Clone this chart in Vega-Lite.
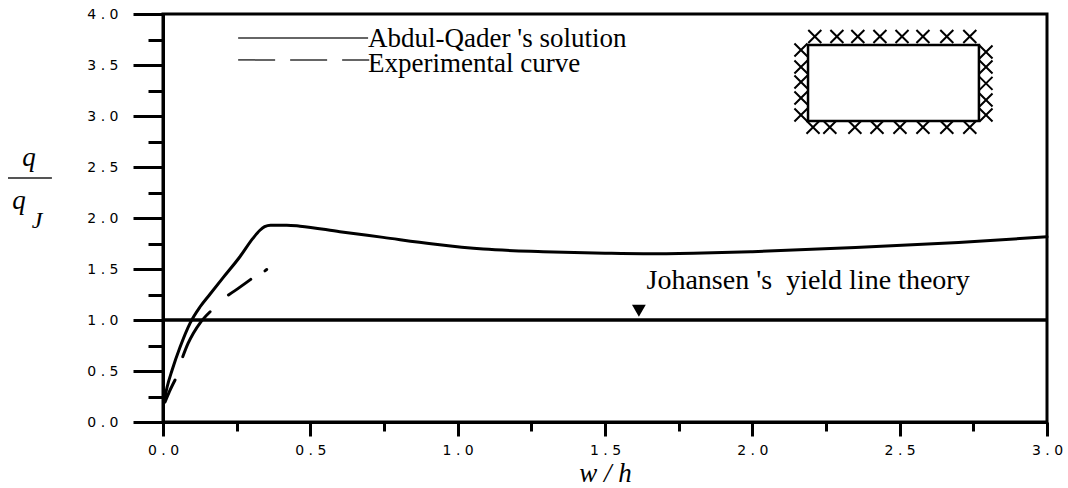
{
  "$schema": "https://vega.github.io/schema/vega-lite/v6.json",
  "width": 884,
  "height": 408,
  "autosize": {"type": "none"},
  "padding": {"left": 163, "top": 14, "right": 21, "bottom": 66},
  "background": "white",
  "config": {
    "view": {"stroke": "black", "strokeWidth": 3},
    "axis": {"grid": false, "domainColor": "black", "domainWidth": 3, "tickColor": "black", "tickWidth": 3, "labelColor": "black", "labelFont": "DejaVu Sans", "labelFontSize": 14, "labelOverlap": false, "labelFlush": false, "labelBound": false}
  },
  "datasets": {
    "abdul": [
      {"x": 0.003, "y": 0.19}, {"x": 0.014, "y": 0.343}, {"x": 0.031, "y": 0.51}, {"x": 0.058, "y": 0.735},
      {"x": 0.092, "y": 0.97}, {"x": 0.126, "y": 1.13}, {"x": 0.16, "y": 1.255}, {"x": 0.204, "y": 1.415},
      {"x": 0.261, "y": 1.62}, {"x": 0.305, "y": 1.8}, {"x": 0.329, "y": 1.88}, {"x": 0.345, "y": 1.915},
      {"x": 0.365, "y": 1.93}, {"x": 0.42, "y": 1.93}, {"x": 0.465, "y": 1.92}, {"x": 0.6, "y": 1.866},
      {"x": 0.747, "y": 1.81}, {"x": 0.917, "y": 1.745}, {"x": 1.087, "y": 1.695}, {"x": 1.29, "y": 1.67},
      {"x": 1.5, "y": 1.655}, {"x": 1.63, "y": 1.65}, {"x": 1.8, "y": 1.655}, {"x": 2.0, "y": 1.67},
      {"x": 2.35, "y": 1.71}, {"x": 2.7, "y": 1.76}, {"x": 3.0, "y": 1.815}
    ],
    "exper": [
      {"seg": 1, "x": 0.007, "y": 0.196}, {"seg": 1, "x": 0.022, "y": 0.3}, {"seg": 1, "x": 0.041, "y": 0.412},
      {"seg": 2, "x": 0.067, "y": 0.64}, {"seg": 2, "x": 0.085, "y": 0.77}, {"seg": 2, "x": 0.103, "y": 0.87}, {"seg": 2, "x": 0.128, "y": 0.98}, {"seg": 2, "x": 0.16, "y": 1.081},
      {"seg": 3, "x": 0.222, "y": 1.245}, {"seg": 3, "x": 0.26, "y": 1.32}, {"seg": 3, "x": 0.298, "y": 1.399},
      {"seg": 4, "x": 0.346, "y": 1.482}, {"seg": 4, "x": 0.352, "y": 1.495}
    ],
    "johansen": [{"x": 0, "x2": 3, "y": 1}],
    "legendLines": [
      {"series": "Abdul-Qader", "x": 0.255, "x2": 0.696, "y": 3.765},
      {"series": "Experimental", "x": 0.255, "x2": 0.7, "y": 3.55}
    ],
    "legendText": [
      {"x": 0.696, "y": 3.676, "text": "Abdul-Qader 's solution"},
      {"x": 0.696, "y": 3.431, "text": "Experimental curve"}
    ],
    "johText": [{"x": 1.641, "y": 1.304, "text": "Johansen 's\u00a0 yield line theory"}],
    "arrow": [{"x": 1.615, "y": 1.09}],
    "inset": [{"x": 2.189, "x2": 2.769, "y": 3.696, "y2": 2.95}],
    "crosses": [
      {"x": 2.212, "y": 3.78}, {"x": 2.287, "y": 3.78}, {"x": 2.358, "y": 3.78}, {"x": 2.433, "y": 3.78},
      {"x": 2.508, "y": 3.78}, {"x": 2.579, "y": 3.78}, {"x": 2.66, "y": 3.78}, {"x": 2.738, "y": 3.78},
      {"x": 2.206, "y": 2.89}, {"x": 2.263, "y": 2.89}, {"x": 2.348, "y": 2.89}, {"x": 2.423, "y": 2.89},
      {"x": 2.501, "y": 2.89}, {"x": 2.579, "y": 2.89}, {"x": 2.66, "y": 2.89}, {"x": 2.738, "y": 2.89},
      {"x": 2.165, "y": 3.647}, {"x": 2.165, "y": 3.48}, {"x": 2.165, "y": 3.333}, {"x": 2.165, "y": 3.176}, {"x": 2.165, "y": 3.01},
      {"x": 2.793, "y": 3.627}, {"x": 2.793, "y": 3.48}, {"x": 2.793, "y": 3.32}, {"x": 2.793, "y": 3.157}, {"x": 2.793, "y": 3.01}
    ],
    "yTitleQ": [{"x": -0.478, "y": 2.51, "text": "q"}, {"x": -0.512, "y": 2.088, "text": "q"}],
    "yTitleJ": [{"x": -0.445, "y": 1.902, "text": "J"}],
    "fracBar": [{"x": -0.526, "x2": -0.377, "y": 2.392}]
  },
  "encoding": {
    "x": {
      "field": "x", "type": "quantitative",
      "scale": {"domain": [0, 3], "nice": false, "zero": false},
      "axis": {
        "values": [0, 0.25, 0.5, 0.75, 1, 1.25, 1.5, 1.75, 2, 2.25, 2.5, 2.75, 3],
        "tickSize": {"condition": {"test": "round(datum.value*2)==datum.value*2", "value": 14}, "value": 9},
        "labelExpr": "round(datum.value*2)==datum.value*2 ? replace(format(datum.value,'.1f'),'.','\u00a0.\u00a0') : ''",
        "labelFont": "DejaVu Sans", "labelFontSize": 14,
        "labelPadding": 7,
        "title": "w / h", "titleFont": "Liberation Serif", "titleFontStyle": "italic", "titleFontWeight": "normal", "titleFontSize": 27, "titleColor": "black", "titlePadding": 3
      }
    },
    "y": {
      "field": "y", "type": "quantitative",
      "scale": {"domain": [0, 4], "nice": false, "zero": false},
      "axis": {
        "values": [0, 0.25, 0.5, 0.75, 1, 1.25, 1.5, 1.75, 2, 2.25, 2.5, 2.75, 3, 3.25, 3.5, 3.75, 4],
        "tickSize": {"condition": {"test": "round(datum.value*2)==datum.value*2", "value": 30}, "value": 15},
        "labelExpr": "round(datum.value*2)==datum.value*2 ? replace(format(datum.value,'.1f'),'.','\u00a0.\u00a0') : ''",
        "labelFont": "DejaVu Sans", "labelFontSize": 14,
        "labelPadding": 15,
        "title": null
      }
    }
  },
  "layer": [
    {"data": {"name": "johansen"}, "mark": {"type": "rule", "color": "black", "strokeWidth": 3.5}, "encoding": {"x2": {"field": "x2"}}},
    {"data": {"name": "abdul"}, "mark": {"type": "line", "color": "black", "strokeWidth": 3, "strokeCap": "round", "strokeJoin": "round", "interpolate": "monotone"}},
    {"data": {"name": "exper"}, "mark": {"type": "line", "color": "black", "strokeWidth": 3, "strokeCap": "round", "strokeJoin": "round", "interpolate": "monotone"}, "encoding": {"detail": {"field": "seg", "type": "nominal"}}},
    {"data": {"name": "legendLines"}, "transform": [{"filter": "datum.series == 'Abdul-Qader'"}], "mark": {"type": "rule", "color": "#333", "strokeWidth": 1.5}, "encoding": {"x2": {"field": "x2"}}},
    {"data": {"name": "legendLines"}, "transform": [{"filter": "datum.series == 'Experimental'"}], "mark": {"type": "rule", "color": "#333", "strokeWidth": 1.5, "strokeDash": [37, 15]}, "encoding": {"x2": {"field": "x2"}}},
    {"data": {"name": "legendText"}, "mark": {"type": "text", "align": "left", "baseline": "alphabetic", "font": "Liberation Serif", "fontSize": 27, "color": "black"}, "encoding": {"text": {"field": "text"}}},
    {"data": {"name": "johText"}, "mark": {"type": "text", "align": "left", "baseline": "alphabetic", "font": "Liberation Serif", "fontSize": 28, "color": "black"}, "encoding": {"text": {"field": "text"}}},
    {"data": {"name": "arrow"}, "mark": {"type": "point", "shape": "triangle-down", "filled": true, "color": "black", "size": 190, "opacity": 1}},
    {"data": {"name": "inset"}, "mark": {"type": "rect", "fill": "white", "stroke": "black", "strokeWidth": 2.5}, "encoding": {"x2": {"field": "x2"}, "y2": {"field": "y2"}}},
    {"data": {"name": "crosses"}, "mark": {"type": "point", "shape": "M-1,-1L1,1M-1,1L1,-1", "filled": false, "stroke": "black", "strokeWidth": 2, "size": 170, "opacity": 1}},
    {"data": {"name": "yTitleQ"}, "mark": {"type": "text", "align": "left", "baseline": "alphabetic", "font": "Liberation Serif", "fontStyle": "italic", "fontSize": 27, "color": "black"}, "encoding": {"text": {"field": "text"}}},
    {"data": {"name": "yTitleJ"}, "mark": {"type": "text", "align": "left", "baseline": "alphabetic", "font": "Liberation Serif", "fontStyle": "italic", "fontSize": 24, "color": "black"}, "encoding": {"text": {"field": "text"}}},
    {"data": {"name": "fracBar"}, "mark": {"type": "rule", "color": "#555", "strokeWidth": 2}, "encoding": {"x2": {"field": "x2"}}}
  ]
}
